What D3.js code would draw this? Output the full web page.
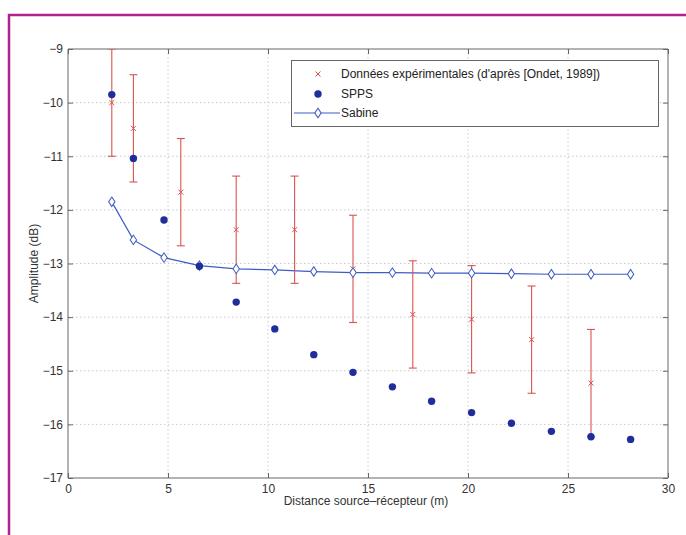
<!DOCTYPE html>
<html><head><meta charset="utf-8">
<script src="https://cdn.jsdelivr.net/npm/d3@7"></script>
<style>body{margin:0;background:#fff;}svg{display:block;}</style>
</head><body>
<script>
// Data
const expX = [2.19, 3.27, 5.64, 8.41, 11.33, 14.25, 17.24, 20.18, 23.18, 26.15];
const expY = [-10.0, -10.48, -11.67, -12.37, -12.37, -13.1, -13.95, -14.04, -14.42, -15.23];
const expErr = [1, 1, 1, 1, 1, 1, 1, 1, 1, 1];
const simX = [2.19, 3.27, 4.8, 6.57, 8.41, 10.34, 12.29, 14.25, 16.22, 18.18, 20.18, 22.17, 24.17, 26.15, 28.13];
const sppsY = [-9.85, -11.04, -12.19, -13.05, -13.72, -14.22, -14.7, -15.03, -15.3, -15.57, -15.78, -15.98, -16.13, -16.23, -16.28];
const sabineY = [-11.85, -12.56, -12.89, -13.04, -13.1, -13.12, -13.15, -13.17, -13.17, -13.18, -13.18, -13.19, -13.2, -13.2, -13.2];
const xTicks = [0, 5, 10, 15, 20, 25, 30];
const yTicks = [-17, -16, -15, -14, -13, -12, -11, -10, -9];
const legendLabels = ["Données expérimentales (d'après [Ondet, 1989])", "SPPS", "Sabine"];

const W = 686, H = 535;
const L = 68, R = 668, T = 49, B = 478;
const font = "'Liberation Sans', Arial, sans-serif";
const fs = "12px";
const svg = d3.select("body").append("svg").attr("width", W).attr("height", H);

// magenta frame
svg.append("path").attr("d", `M9,${H} L9,15 L${W},15`).attr("fill","none").attr("stroke","#b3218f").attr("stroke-width",2.5);

const x = d3.scaleLinear().domain([0, 30]).range([L, R]);
const y = d3.scaleLinear().domain([-17, -9]).range([B, T]);

svg.append("clipPath").attr("id", "clip").append("rect").attr("x", L).attr("y", T).attr("width", R - L).attr("height", B - T);

// grid
const grid = svg.append("g");
grid.selectAll(".gx").data(xTicks.slice(1, -1)).join("line")
  .attr("x1", d => x(d)).attr("x2", d => x(d)).attr("y1", T).attr("y2", B)
  .attr("stroke", "#bbb").attr("stroke-width", 0.8).attr("stroke-dasharray", "1.5,2.5");
grid.selectAll(".gy").data(yTicks.slice(1, -1)).join("line")
  .attr("x1", L).attr("x2", R).attr("y1", d => y(d)).attr("y2", d => y(d))
  .attr("stroke", "#bbb").attr("stroke-width", 0.8).attr("stroke-dasharray", "1.5,2.5");

// axes (box style)
const axColor = "#666";
const gxB = svg.append("g").attr("transform", `translate(0,${B})`)
  .call(d3.axisBottom(x).tickValues(xTicks).tickSize(-5).tickPadding(6).tickFormat(d3.format("d")));
const gxT = svg.append("g").attr("transform", `translate(0,${T})`)
  .call(d3.axisTop(x).tickValues(xTicks).tickSize(-5).tickFormat(""));
const gyL = svg.append("g").attr("transform", `translate(${L},0)`)
  .call(d3.axisLeft(y).tickValues(yTicks).tickSize(-5).tickPadding(5).tickFormat(d => "\u2212" + Math.abs(d)));
const gyR = svg.append("g").attr("transform", `translate(${R},0)`)
  .call(d3.axisRight(y).tickValues(yTicks).tickSize(-5).tickFormat(""));
[gxB, gxT, gyL, gyR].forEach(g => {
  g.select(".domain").attr("stroke", axColor).attr("stroke-width", 1);
  g.selectAll(".tick line").attr("stroke", axColor);
  g.selectAll("text").attr("fill", "#333").style("font-family", font).style("font-size", fs);
});
gyL.selectAll(".domain").attr("d", `M0,${T}V${B}`);
gyR.selectAll(".domain").attr("d", `M0,${T}V${B}`);
gxB.selectAll(".domain").attr("d", `M${L},0H${R}`);
gxT.selectAll(".domain").attr("d", `M${L},0H${R}`);

// axis titles
svg.append("text").attr("x", (L + R) / 2 - 2).attr("y", 505).attr("text-anchor", "middle")
  .style("font-family", font).style("font-size", fs).attr("fill", "#333")
  .text("Distance source\u2013récepteur (m)");
svg.append("text").attr("transform", `translate(38,${(T + B) / 2}) rotate(-90)`).attr("text-anchor", "middle")
  .style("font-family", font).style("font-size", fs).attr("fill", "#333")
  .text("Amplitude (dB)");

const plot = svg.append("g").attr("clip-path", "url(#clip)");

// Sabine line
const sab = simX.map((d, i) => [d, sabineY[i]]);
const blue = "#3f5cc4";
plot.append("path").datum(sab)
  .attr("d", d3.line().x(d => x(d[0])).y(d => y(d[1])))
  .attr("fill", "none").attr("stroke", blue).attr("stroke-width", 1.2);

// error bars
const red = "#d9534f";
const errs = expX.map((d, i) => ({ x: d, y: expY[i], e: expErr[i] }));
const eg = plot.selectAll(".err").data(errs).join("g").attr("stroke", red).attr("stroke-width", 1.1);
eg.append("line").attr("x1", d => x(d.x)).attr("x2", d => x(d.x))
  .attr("y1", d => y(d.y + d.e)).attr("y2", d => y(d.y - d.e));
eg.append("line").attr("x1", d => x(d.x) - 4).attr("x2", d => x(d.x) + 4)
  .attr("y1", d => y(d.y + d.e)).attr("y2", d => y(d.y + d.e));
eg.append("line").attr("x1", d => x(d.x) - 4).attr("x2", d => x(d.x) + 4)
  .attr("y1", d => y(d.y - d.e)).attr("y2", d => y(d.y - d.e));
const cross = d3.symbol().type(d3.symbolX).size(18);
plot.selectAll(".xm").data(errs).join("path")
  .attr("transform", d => `translate(${x(d.x)},${y(d.y)})`)
  .attr("d", cross).attr("fill", "none").attr("stroke", red).attr("stroke-width", 1);

// Sabine diamonds
const diamond = d3.symbol().type(d3.symbolDiamond2).size(40);
plot.selectAll(".sd").data(sab).join("path")
  .attr("transform", d => `translate(${x(d[0])},${y(d[1])}) scale(0.8,1.2)`)
  .attr("d", diamond).attr("fill", "#fff").attr("stroke", blue).attr("stroke-width", 1.1);

// SPPS dots
const navy = "#1f2e9a";
plot.selectAll(".sp").data(simX.map((d, i) => [d, sppsY[i]])).join("circle")
  .attr("cx", d => x(d[0])).attr("cy", d => y(d[1])).attr("r", 3.7).attr("fill", navy);

// legend
const lg = svg.append("g");
lg.append("rect").attr("x", 291.5).attr("y", 60.5).attr("width", 367).attr("height", 66)
  .attr("fill", "#fff").attr("stroke", "#666").attr("stroke-width", 1);
const ly = [74, 94, 113];
lg.append("path").attr("transform", `translate(318,${ly[0]})`).attr("d", cross)
  .attr("fill", "none").attr("stroke", red).attr("stroke-width", 1);
lg.append("circle").attr("cx", 318).attr("cy", ly[1]).attr("r", 3.7).attr("fill", navy);
lg.append("line").attr("x1", 294).attr("x2", 340).attr("y1", ly[2]).attr("y2", ly[2]).attr("stroke", blue).attr("stroke-width", 1.2);
lg.append("path").attr("transform", `translate(318,${ly[2]}) scale(0.8,1.2)`).attr("d", diamond)
  .attr("fill", "#fff").attr("stroke", blue).attr("stroke-width", 1.1);
lg.selectAll(".lt").data(legendLabels).join("text")
  .attr("x", 341).attr("y", (d, i) => ly[i]).attr("dy", "0.35em")
  .style("font-family", font).style("font-size", fs).attr("fill", "#222").text(d => d);
</script>
</body></html>
